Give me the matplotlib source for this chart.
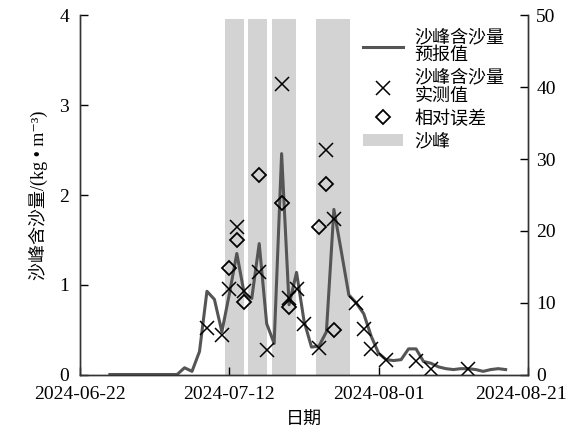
import matplotlib

matplotlib.use("Agg")
import matplotlib.dates as mdates
import matplotlib.pyplot as plt
import matplotlib.transforms as mtransforms
import pandas as pd
from matplotlib.lines import Line2D
from matplotlib.patches import Patch

plt.rcParams["font.family"] = ["Liberation Serif", "Noto Sans CJK SC", "DejaVu Sans"]

# Forecast of peak sediment concentration (kg/m3), daily from 2024-06-26
pred_start = "2024-06-26"
pred_values = [
    0.005, 0.005, 0.005, 0.005, 0.005, 0.005, 0.005, 0.005, 0.005, 0.005,
    0.08, 0.04, 0.26, 0.93, 0.84, 0.48, 0.90, 1.35, 0.90, 0.85,
    1.46, 0.57, 0.35, 2.46, 0.78, 1.14, 0.60, 0.31, 0.32, 0.48,
    1.84, 1.37, 0.89, 0.80, 0.68, 0.43, 0.24, 0.17, 0.16, 0.17,
    0.29, 0.29, 0.15, 0.13, 0.09, 0.07, 0.06, 0.07, 0.07, 0.06,
    0.04, 0.06, 0.07, 0.06,
]

# Measured concentration (kg/m3)
obs_dates = [
    "2024-07-09", "2024-07-11", "2024-07-12", "2024-07-13", "2024-07-14",
    "2024-07-16", "2024-07-17", "2024-07-19", "2024-07-20", "2024-07-21",
    "2024-07-22", "2024-07-24", "2024-07-25", "2024-07-26", "2024-07-29",
    "2024-07-30", "2024-07-31", "2024-08-02", "2024-08-06", "2024-08-08",
    "2024-08-13",
]
obs_values = [
    0.52, 0.44, 0.96, 1.64, 0.93, 1.14, 0.28, 3.23, 0.85, 0.96,
    0.57, 0.30, 2.50, 1.73, 0.80, 0.51, 0.29, 0.17, 0.15, 0.07,
    0.07,
]

# Relative error (%)
err_dates = [
    "2024-07-12", "2024-07-13", "2024-07-14", "2024-07-16", "2024-07-19",
    "2024-07-20", "2024-07-24", "2024-07-25", "2024-07-26",
]
err_values = [14.8, 18.7, 10.2, 27.8, 23.9, 9.4, 20.5, 26.5, 6.3]

# Sediment peak periods
peak_starts = ["2024-07-11 10:00", "2024-07-14 13:00", "2024-07-17 18:00", "2024-07-23 14:00"]
peak_ends = ["2024-07-13 22:00", "2024-07-17 01:00", "2024-07-20 21:00", "2024-07-28 05:00"]

xticks = ["2024-06-22", "2024-07-12", "2024-08-01", "2024-08-21"]

pred_dates = pd.date_range(pred_start, periods=len(pred_values), freq="D")

fig = plt.figure(figsize=(5.69, 4.30), dpi=100)
ax = fig.add_axes([0.1406, 0.128, 0.7874, 0.837])
ax2 = ax.twinx()

for s, e in zip(peak_starts, peak_ends):
    ax.axvspan(pd.Timestamp(s), pd.Timestamp(e), ymin=0, ymax=0.99,
               color="#d3d3d3", lw=0, zorder=0)

ax.plot(pred_dates, pred_values, color="#555555", lw=2.2, zorder=2)
ax.plot(pd.to_datetime(obs_dates), obs_values, ls="none", marker="x",
        ms=10, mew=1.1, color="black", zorder=3)
ax2.plot(pd.to_datetime(err_dates), err_values, ls="none", marker="D",
         ms=7.5, mew=1.3, mfc="none", mec="black", zorder=3)

ax.set_xlim(pd.Timestamp(xticks[0]), pd.Timestamp(xticks[-1]))
ax.set_ylim(0, 4)
ax2.set_ylim(0, 50)
ax.set_xticks(pd.to_datetime(xticks))
ax.xaxis.set_major_formatter(mdates.DateFormatter("%Y-%m-%d"))
ax.set_yticks([0, 1, 2, 3, 4])
ax2.set_yticks([0, 10, 20, 30, 40, 50])

for a in (ax, ax2):
    a.spines["top"].set_visible(False)
    a.tick_params(direction="in", length=6, width=1, labelsize=14)
    for sp in a.spines.values():
        sp.set_linewidth(1)
        sp.set_color("#333333")
ax.tick_params(axis="x", pad=8)
ax.tick_params(axis="y", pad=8)
ax2.tick_params(axis="y", pad=6)

# keep the last date label inside the figure
last = ax.get_xticklabels()[-1]
last.set_transform(last.get_transform()
                   + mtransforms.ScaledTranslation(-0.07, 0, fig.dpi_scale_trans))

ax.set_xlabel("日期", fontsize=13, labelpad=6)
ax.set_ylabel("沙峰含沙量/(kg • m⁻³)", fontsize=13, labelpad=8)

handles = [
    Line2D([], [], color="#555555", lw=2.2),
    Line2D([], [], ls="none", marker="x", ms=10, mew=1.1, color="black"),
    Line2D([], [], ls="none", marker="D", ms=7.5, mew=1.3, mfc="none", mec="black"),
    Patch(facecolor="#d3d3d3", edgecolor="none"),
]
labels = ["沙峰含沙量\n预报值", "沙峰含沙量\n实测值", "相对误差", "沙峰"]
leg = ax2.legend(handles, labels, loc="upper left",
                 bbox_to_anchor=(363 / 569, 1 - 29 / 430),
                 bbox_transform=fig.transFigure, frameon=False, fontsize=13,
                 handlelength=2.2, handletextpad=0.65, labelspacing=0.3,
                 borderpad=0, borderaxespad=0)
for t in leg.get_texts():
    t.set_linespacing(1.1)

fig.savefig("out.png", dpi=100)
